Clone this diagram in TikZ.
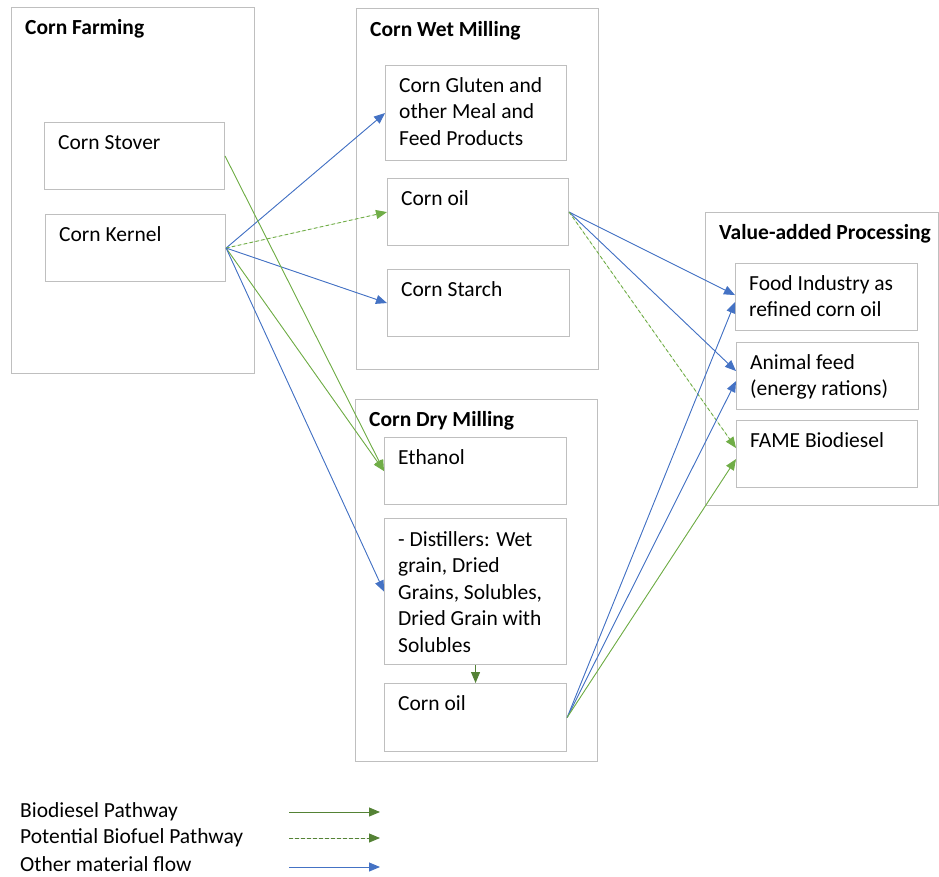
\documentclass[tikz,border=0pt]{standalone}
\usepackage{fontspec}
\setmainfont{Carlito}
\usetikzlibrary{arrows.meta}
\definecolor{flowblue}{HTML}{4472C4}
\definecolor{fuelgreen}{HTML}{70AD47}
\definecolor{darkgreen}{HTML}{548235}
\definecolor{boxgray}{HTML}{BFBFBF}
% stacked lines whose baseline is that of the first line
\newcommand{\toplines}[1]{\begin{tabular}[t]{@{}l@{}}#1\end{tabular}}
\begin{document}
\begin{tikzpicture}[x=1pt,y=-1pt,
  box/.style={draw=boxgray, line width=1.1pt, inner sep=0pt, anchor=north west},
  txt/.style={anchor=base west, inner sep=0pt,
    font=\fontsize{21.5}{26.5}\selectfont},
  ttl/.style={txt, font=\fontsize{21.5}{26.5}\selectfont\bfseries},
  flow/.style={line width=0.9pt, -{Triangle[length=11pt,width=9pt]}},
  other/.style={flow, draw=flowblue, fill=flowblue},
  biofuel/.style={flow, draw=fuelgreen, fill=fuelgreen},
  potential/.style={flow, draw=fuelgreen, fill=fuelgreen, dash pattern=on 3.5pt off 2.5pt},
  biodiesel/.style={flow, draw=darkgreen, fill=darkgreen},
  potlegend/.style={flow, draw=darkgreen, fill=darkgreen, dash pattern=on 3.5pt off 2.5pt}]
\useasboundingbox (0,0) rectangle (939,876);

% stage groups
\node[box, minimum width=243pt, minimum height=366pt] (farm) at (11,7) {};
\node[ttl] (farm-t) at ([xshift=14pt,yshift=-27pt]farm.north west) {Corn Farming};
\node[box, minimum width=242pt, minimum height=361pt] (wet) at (356,8) {};
\node[ttl] (wet-t) at ([xshift=14pt,yshift=-28pt]wet.north west) {Corn Wet Milling};
\node[box, minimum width=242pt, minimum height=362pt] (dry) at (355,399) {};
\node[ttl] (dry-t) at ([xshift=14pt,yshift=-27pt]dry.north west) {Corn Dry Milling};
\node[box, minimum width=233pt, minimum height=293pt] (value) at (705,212) {};
\node[ttl] (value-t) at ([xshift=14pt,yshift=-27pt]value.north west) {Value-added Processing};

% products
\node[box, minimum width=180pt, minimum height=67pt] (stover) at (44,122) {};
\node[txt] (stover-t) at ([xshift=14pt,yshift=-27pt]stover.north west) {Corn Stover};
\node[box, minimum width=180pt, minimum height=67pt] (kernel) at (45,214) {};
\node[txt] (kernel-t) at ([xshift=14pt,yshift=-27pt]kernel.north west) {Corn Kernel};

\node[box, minimum width=181pt, minimum height=95pt] (gluten) at (385,65) {};
\node[txt] (gluten-t) at ([xshift=14pt,yshift=-27pt]gluten.north west) {\toplines{Corn Gluten and\\other Meal and\\Feed Products}};
\node[box, minimum width=181pt, minimum height=67pt] (wetoil) at (387,178) {};
\node[txt] (wetoil-t) at ([xshift=14pt,yshift=-27pt]wetoil.north west) {Corn oil};
\node[box, minimum width=182pt, minimum height=67pt] (starch) at (387,269) {};
\node[txt] (starch-t) at ([xshift=14pt,yshift=-27pt]starch.north west) {Corn Starch};

\node[box, minimum width=182pt, minimum height=67pt] (ethanol) at (384,437) {};
\node[txt] (ethanol-t) at ([xshift=14pt,yshift=-27pt]ethanol.north west) {Ethanol};
\node[box, minimum width=182pt, minimum height=146pt] (distill) at (384,518) {};
\node[txt] (distill-t) at ([xshift=14pt,yshift=-28pt]distill.north west) {\toplines{- Distillers: Wet\\grain, Dried\\Grains, Solubles,\\Dried Grain with\\Solubles}};
\node[box, minimum width=182pt, minimum height=68pt] (dryoil) at (384,683) {};
\node[txt] (dryoil-t) at ([xshift=14pt,yshift=-27pt]dryoil.north west) {Corn oil};

\node[box, minimum width=182pt, minimum height=67pt] (food) at (735,263) {};
\node[txt] (food-t) at ([xshift=14pt,yshift=-27pt]food.north west) {\toplines{Food Industry as\\refined corn oil}};
\node[box, minimum width=182pt, minimum height=67pt] (feed) at (736,342) {};
\node[txt] (feed-t) at ([xshift=14pt,yshift=-27pt]feed.north west) {\toplines{Animal feed\\(energy rations)}};
\node[box, minimum width=181pt, minimum height=67pt] (fame) at (736,420) {};
\node[txt] (fame-t) at ([xshift=14pt,yshift=-27pt]fame.north west) {FAME Biodiesel};

% material flows
\draw[other] (kernel.east) -- (gluten.west);
\draw[potential] (kernel.east) -- (wetoil.west);
\draw[other] (kernel.east) -- (starch.west);
\draw[biofuel] (kernel.east) -- (ethanol.west);
\draw[biofuel] (stover.east) -- (ethanol.west);
\draw[other] (kernel.east) -- (distill.west);
\draw[biodiesel] (distill.south) -- (dryoil.north);
\draw[other] (wetoil.east) -- ([yshift=2pt]food.west);
\draw[other] (wetoil.east) -- ([yshift=5pt]feed.west);
\draw[potential] (wetoil.east) -- ([yshift=6pt]fame.west);
\draw[other] (dryoil.east) -- ([yshift=-5pt]food.west);
\draw[other] (dryoil.east) -- ([yshift=-5pt]feed.west);
\draw[biofuel] (dryoil.east) -- ([yshift=-5pt]fame.west);

% legend
\node[txt] (leg1) at (20,817) {Biodiesel Pathway};
\node[txt] (leg2) at (20,843) {Potential Biofuel Pathway};
\node[txt] (leg3) at (20,871) {Other material flow};
\coordinate (l1a) at (289,812); \coordinate (l1b) at (380,812);
\coordinate (l2a) at (289,838); \coordinate (l2b) at (380,838);
\coordinate (l3a) at (289,867); \coordinate (l3b) at (380,867);
\draw[biodiesel] (l1a) -- (l1b);
\draw[potlegend] (l2a) -- (l2b);
\draw[other] (l3a) -- (l3b);
\end{tikzpicture}
\end{document}
